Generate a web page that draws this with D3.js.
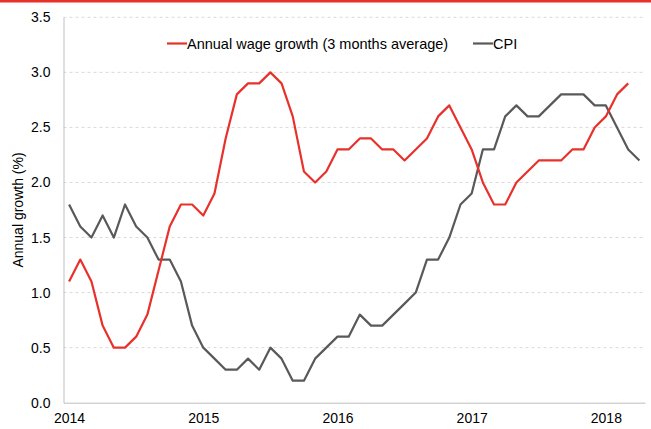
<!DOCTYPE html>
<html lang="en">
<head>
<meta charset="UTF-8">
<title>Wage growth vs CPI</title>
<script src="https://d3js.org/d3.v7.min.js"></script>
<style>
  body { margin: 0; background: #fff; font-family: Arial, "Liberation Sans", sans-serif; }
  .grid line { stroke: #d9d9d9; stroke-dasharray: 3 3; }
  .axis text { font-size: 14px; fill: #000; }
</style>
</head>
<body>
<svg width="651" height="429"></svg>
<script>
// monthly, Jan 2014 .. Apr 2018
var months = d3.range(52).map(function(i) { return new Date(2014, i, 1); });
var yearTicks = ["2014", "2015", "2016", "2017", "2018"];
var yTicks = [0, 0.5, 1, 1.5, 2, 2.5, 3, 3.5];

var wage = [1.1, 1.3, 1.1, 0.7, 0.5, 0.5, 0.6, 0.8, 1.2, 1.6, 1.8, 1.8,
            1.7, 1.9, 2.4, 2.8, 2.9, 2.9, 3.0, 2.9, 2.6, 2.1, 2.0, 2.1,
            2.3, 2.3, 2.4, 2.4, 2.3, 2.3, 2.2, 2.3, 2.4, 2.6, 2.7, 2.5,
            2.3, 2.0, 1.8, 1.8, 2.0, 2.1, 2.2, 2.2, 2.2, 2.3, 2.3, 2.5,
            2.6, 2.8, 2.9];
var cpi = [1.8, 1.6, 1.5, 1.7, 1.5, 1.8, 1.6, 1.5, 1.3, 1.3, 1.1, 0.7,
           0.5, 0.4, 0.3, 0.3, 0.4, 0.3, 0.5, 0.4, 0.2, 0.2, 0.4, 0.5,
           0.6, 0.6, 0.8, 0.7, 0.7, 0.8, 0.9, 1.0, 1.3, 1.3, 1.5, 1.8,
           1.9, 2.3, 2.3, 2.6, 2.7, 2.6, 2.6, 2.7, 2.8, 2.8, 2.8, 2.7,
           2.7, 2.5, 2.3, 2.2];

var svg = d3.select("svg");
var plotL = 63.5, plotR = 645, plotT = 17.3, plotB = 402.7;

var x = d3.scalePoint()
    .domain(d3.range(months.length))
    .range([plotL, plotR])
    .padding(0.5);
var y = d3.scaleLinear().domain([0, 3.5]).range([plotB, plotT]);

// top red rule
svg.append("rect").attr("x", 0).attr("y", 0).attr("width", 651).attr("height", 2.5).attr("fill", "#e8312b");

// grid
svg.append("g").attr("class", "grid")
    .selectAll("line").data(yTicks.slice(1)).enter().append("line")
    .attr("x1", plotL).attr("x2", plotR)
    .attr("y1", function(d) { return y(d); }).attr("y2", function(d) { return y(d); });

// y axis
var yAxis = svg.append("g").attr("class", "axis")
    .attr("transform", "translate(" + plotL + ",0)")
    .call(d3.axisLeft(y).tickValues(yTicks).tickFormat(d3.format(".1f")).tickSize(0).tickPadding(13));
yAxis.select(".domain").attr("stroke", "#bfbfbf");

// x axis
var xAxis = svg.append("g").attr("class", "axis")
    .attr("transform", "translate(0," + plotB + ")")
    .call(d3.axisBottom(x)
        .tickValues(yearTicks.map(function(d, i) { return i * 12; }))
        .tickFormat(function(d) { return yearTicks[d / 12]; })
        .tickSize(0).tickPadding(10));
xAxis.select(".domain").attr("stroke", "#bfbfbf");

svg.append("text")
    .attr("transform", "translate(23," + ((plotT + plotB) / 2) + ") rotate(-90)")
    .attr("text-anchor", "middle")
    .style("font-size", "14px")
    .text("Annual growth (%)");

var line = d3.line()
    .x(function(d, i) { return x(i); })
    .y(function(d) { return y(d); });

svg.append("path").datum(cpi)
    .attr("fill", "none").attr("stroke", "#595959").attr("stroke-width", 2.2)
    .attr("stroke-linejoin", "round").attr("d", line);
svg.append("path").datum(wage)
    .attr("fill", "none").attr("stroke", "#e8312b").attr("stroke-width", 2.2)
    .attr("stroke-linejoin", "round").attr("d", line);

// legend
var legend = [
    { label: "Annual wage growth (3 months average)", color: "#e8312b", x: 167 },
    { label: "CPI", color: "#595959", x: 473 }
];
var lg = svg.append("g").selectAll("g").data(legend).enter().append("g")
    .attr("transform", function(d) { return "translate(" + d.x + ",43.5)"; });
lg.append("line").attr("x1", 0).attr("x2", 20)
    .attr("stroke", function(d) { return d.color; }).attr("stroke-width", 2.2);
lg.append("text").attr("x", 20).attr("dy", "0.35em")
    .style("font-size", "14.5px")
    .text(function(d) { return d.label; });
</script>
</body>
</html>
